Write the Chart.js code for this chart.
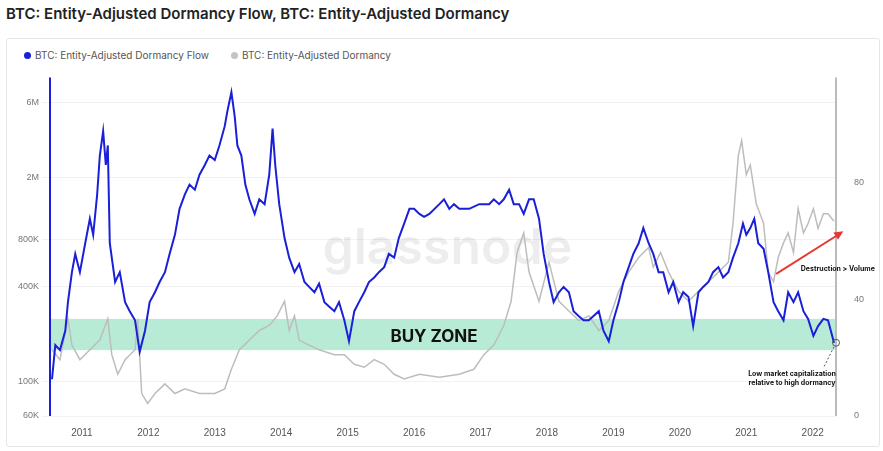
<!DOCTYPE html>
<html>
<head>
<meta charset="utf-8">
<script src="https://cdn.jsdelivr.net/npm/chart.js@4"></script>
<style>
body{margin:0;background:#fff;font-family:Inter,"Noto Sans",sans-serif;width:883px;height:451px;overflow:hidden;position:relative}
#title{position:absolute;left:6px;top:4px;font-size:15px;font-weight:600;color:#222}
#card{position:absolute;left:6px;top:38px;width:872px;height:407px;border:1px solid #e6e6e6;border-radius:3px}
#legend{position:absolute;left:24px;top:49px;font-size:10px;color:#555}
#legend span{margin-right:22px}
#legend i{display:inline-block;width:7px;height:7px;border-radius:50%;margin-right:4px}
#wrap{position:absolute;left:6px;top:62px;width:872px;height:380px}
</style>
</head>
<body>
<div id="title">BTC: Entity-Adjusted Dormancy Flow, BTC: Entity-Adjusted Dormancy</div>
<div id="card"></div>
<div id="legend"><span><i style="background:#1a1fd8"></i>BTC: Entity-Adjusted Dormancy Flow</span><span><i style="background:#c4c4c4"></i>BTC: Entity-Adjusted Dormancy</span></div>
<div id="wrap"><canvas id="chart"></canvas></div>
<script>
// flow values in thousands
const flowDates = [2010.55,2010.60,2010.67,2010.75,2010.79,2010.85,2010.90,2010.97,2011.05,2011.12,2011.17,2011.23,2011.27,2011.32,2011.36,2011.39,2011.42,2011.50,2011.57,2011.65,2011.72,2011.80,2011.87,2011.95,2012.02,2012.10,2012.17,2012.25,2012.32,2012.40,2012.47,2012.55,2012.62,2012.70,2012.77,2012.85,2012.92,2013.00,2013.07,2013.15,2013.19,2013.25,2013.30,2013.34,2013.40,2013.46,2013.52,2013.60,2013.67,2013.75,2013.82,2013.87,2013.91,2013.97,2014.05,2014.12,2014.20,2014.27,2014.35,2014.42,2014.50,2014.57,2014.65,2014.72,2014.80,2014.87,2014.95,2015.02,2015.10,2015.17,2015.25,2015.32,2015.40,2015.47,2015.55,2015.62,2015.70,2015.77,2015.85,2015.93,2016.00,2016.08,2016.15,2016.23,2016.38,2016.45,2016.53,2016.60,2016.68,2016.83,2016.98,2017.13,2017.20,2017.28,2017.35,2017.43,2017.50,2017.58,2017.65,2017.73,2017.80,2017.88,2017.95,2018.03,2018.10,2018.18,2018.25,2018.33,2018.40,2018.48,2018.55,2018.63,2018.78,2018.85,2018.93,2019.00,2019.08,2019.15,2019.23,2019.30,2019.38,2019.45,2019.53,2019.60,2019.68,2019.75,2019.83,2019.90,2019.98,2020.05,2020.13,2020.20,2020.28,2020.35,2020.43,2020.50,2020.58,2020.65,2020.73,2020.80,2020.88,2020.95,2021.00,2021.06,2021.12,2021.18,2021.26,2021.33,2021.41,2021.48,2021.56,2021.63,2021.71,2021.78,2021.86,2021.93,2022.01,2022.08,2022.16,2022.23,2022.32];
const flowValues = [103,170,158,210,320,497,650,497,760,1090,860,1560,2760,3950,2400,3200,760,430,497,320,280,245,154,210,320,370,430,497,650,860,1260,1560,1800,1670,2080,2400,2760,2580,3200,4250,5300,7000,4900,3200,2760,1800,1450,1170,1450,1350,2080,4100,2400,1350,820,615,497,560,430,400,370,420,320,300,280,320,245,180,280,320,370,430,460,497,535,650,615,820,1015,1260,1260,1170,1120,1170,1350,1450,1260,1350,1260,1260,1350,1350,1450,1350,1450,1670,1350,1350,1170,1450,1450,1090,650,430,320,370,400,370,280,260,245,245,280,210,180,245,320,430,535,650,760,950,760,650,497,497,370,430,320,370,345,225,370,400,430,497,535,460,497,615,760,1015,860,950,1090,760,700,497,320,280,245,370,320,370,280,250,195,225,250,245,176];
const dormDates = [2010.55,2010.67,2010.79,2010.85,2010.97,2011.12,2011.27,2011.39,2011.45,2011.54,2011.65,2011.80,2011.84,2011.90,2011.99,2012.10,2012.25,2012.40,2012.55,2012.77,2013.00,2013.15,2013.25,2013.37,2013.52,2013.67,2013.82,2013.94,2014.05,2014.12,2014.20,2014.27,2014.42,2014.57,2014.80,2014.95,2015.10,2015.25,2015.40,2015.55,2015.70,2015.85,2016.08,2016.38,2016.68,2016.90,2017.05,2017.20,2017.35,2017.46,2017.55,2017.65,2017.73,2017.88,2018.03,2018.18,2018.33,2018.48,2018.63,2018.78,2018.93,2019.08,2019.23,2019.38,2019.53,2019.60,2019.71,2019.83,2019.98,2020.13,2020.28,2020.43,2020.58,2020.73,2020.80,2020.88,2020.93,2021.00,2021.06,2021.15,2021.26,2021.33,2021.41,2021.48,2021.56,2021.63,2021.71,2021.78,2021.86,2021.93,2022.01,2022.08,2022.16,2022.23,2022.32];
const dormValues = [22.7,19.3,33.3,24.3,19.3,22.7,26,33.3,21,14.3,19.3,22.7,33.3,7.7,4.3,7.7,11,7.7,9.3,7.7,7.7,9.3,16,22.7,26,29.3,31,34.3,39.3,29.3,34.3,26,24.3,22.7,21,21,17.7,16.7,19.3,17.7,14.3,12.7,14.3,13.3,14.3,16,21,24.3,31,39.3,56,62.7,49.3,39.3,52.7,39.3,36,32.7,34.3,29.3,32.7,42.7,49.3,54.3,57.7,51,56,49.3,42.7,39.3,42.7,46,49.3,52.7,66,89.3,94.3,82.7,86,72.7,66,49.3,46,54.3,59.3,62.7,56,71,62.7,66,71,64.3,69.3,69.3,66.7];
const yearTicks = [2011,2012,2013,2014,2015,2016,2017,2018,2019,2020,2021,2022];
const flowTicks = [60,100,400,800,2000,6000];
const flowTickLabels = {60:'60K',100:'100K',400:'400K',800:'800K',2000:'2M',6000:'6M'};
const buyZone = [158, 250];

const zip = (xs, ys) => xs.slice(0, Math.min(xs.length, ys.length)).map((x, i) => ({x, y: ys[i]}));

const extras = {
  id: 'extras',
  beforeDatasetsDraw(c) {
    const {ctx, chartArea: a, scales: {x, y}} = c;
    ctx.save();
    ctx.fillStyle = 'rgba(0,0,0,0.07)';
    ctx.font = '600 50px Inter, sans-serif';
    ctx.textAlign = 'center'; ctx.textBaseline = 'middle';
    ctx.fillText('glassnode', x.getPixelForValue(2016.5), y.getPixelForValue(700));
    const t = y.getPixelForValue(buyZone[1]), b = y.getPixelForValue(buyZone[0]);
    ctx.fillStyle = 'rgba(160,228,200,0.75)';
    ctx.fillRect(a.left, t, a.right - a.left, b - t);
    ctx.restore();
  },
  afterDatasetsDraw(c) {
    const {ctx, chartArea: a, scales: {x, y, y2}} = c;
    ctx.save();
    ctx.fillStyle = '#111';
    ctx.font = 'bold 17px Inter, sans-serif';
    ctx.textAlign = 'center'; ctx.textBaseline = 'middle';
    const t = y.getPixelForValue(buyZone[1]), b = y.getPixelForValue(buyZone[0]);
    ctx.fillText('BUY ZONE', x.getPixelForValue(2016.3), (t + b) / 2 + 2);
    ctx.lineWidth = 2; ctx.strokeStyle = '#1a1fd8';
    ctx.beginPath(); ctx.moveTo(a.left, a.top); ctx.lineTo(a.left, a.bottom); ctx.stroke();
    ctx.strokeStyle = '#bbb';
    ctx.beginPath(); ctx.moveTo(a.right, a.top); ctx.lineTo(a.right, a.bottom); ctx.stroke();
    // arrow
    const x1 = x.getPixelForValue(2021.45), y1 = y2.getPixelForValue(48.7);
    const x2 = x.getPixelForValue(2022.46), y2p = y2.getPixelForValue(63.3);
    ctx.strokeStyle = '#e53935'; ctx.fillStyle = '#e53935'; ctx.lineWidth = 2;
    ctx.beginPath(); ctx.moveTo(x1, y1); ctx.lineTo(x2 - 6, y2p + 4); ctx.stroke();
    const ang = Math.atan2(y2p - y1, x2 - x1);
    ctx.beginPath(); ctx.moveTo(x2, y2p);
    ctx.lineTo(x2 - 10 * Math.cos(ang - 0.45), y2p - 10 * Math.sin(ang - 0.45));
    ctx.lineTo(x2 - 10 * Math.cos(ang + 0.45), y2p - 10 * Math.sin(ang + 0.45));
    ctx.closePath(); ctx.fill();
    ctx.fillStyle = '#111'; ctx.font = 'bold 7px Inter, sans-serif'; ctx.textAlign = 'left';
    ctx.fillText('Destruction > Volume', x.getPixelForValue(2021.82), y2.getPixelForValue(50.5));
    // low market cap marker
    const mx = a.right, my = y.getPixelForValue(176);
    ctx.strokeStyle = '#555'; ctx.lineWidth = 1;
    ctx.beginPath(); ctx.arc(mx, my, 3.5, 0, Math.PI * 2); ctx.stroke();
    ctx.setLineDash([2, 2]);
    ctx.beginPath(); ctx.moveTo(mx - 2, my + 4); ctx.lineTo(mx - 12, my + 24); ctx.stroke();
    ctx.setLineDash([]);
    ctx.textAlign = 'center';
    ctx.fillText('Low market capitalization', mx - 44, my + 31);
    ctx.fillText('relative to high dormancy', mx - 44, my + 40);
    ctx.restore();
  }
};

new Chart(document.querySelector('#chart').getContext('2d'), {
  type: 'line',
  data: {
    datasets: [
      {label: 'BTC: Entity-Adjusted Dormancy Flow', data: zip(flowDates, flowValues), yAxisID: 'y',
       borderColor: '#1a1fd8', borderWidth: 2, pointRadius: 0, tension: 0, order: 0},
      {label: 'BTC: Entity-Adjusted Dormancy', data: zip(dormDates, dormValues), yAxisID: 'y2',
       borderColor: '#bdbdbd', borderWidth: 1.5, pointRadius: 0, tension: 0, order: 1}
    ]
  },
  options: {
    responsive: true, maintainAspectRatio: false, animation: false,
    layout: {padding: {top: 8, left: 0, right: 0}},
    plugins: {legend: {display: false}, tooltip: {enabled: false}},
    scales: {
      x: {type: 'linear', min: 2010.52, max: 2022.35,
          afterBuildTicks: s => { s.ticks = yearTicks.map(v => ({value: v})); },
          ticks: {color: '#555', font: {size: 10}, callback: v => String(v)},
          grid: {display: false}, border: {display: false}},
      y: {type: 'logarithmic', position: 'left', min: 60, max: 8700,
          afterBuildTicks: s => { s.ticks = flowTicks.map(v => ({value: v})); },
          afterFit: s => { s.width = 44; },
          ticks: {color: '#777', font: {size: 9}, callback: v => flowTickLabels[v] || ''},
          grid: {color: '#f2f2f2'}, border: {display: false}},
      y2: {type: 'linear', position: 'right', min: 0, max: 116,
           afterBuildTicks: s => { s.ticks = [0, 40, 80].map(v => ({value: v})); },
           afterFit: s => { s.width = 42; },
           ticks: {color: '#777', font: {size: 9}, padding: 10},
           grid: {display: false}, border: {display: false}}
    }
  },
  plugins: [extras]
});
</script>
</body>
</html>
